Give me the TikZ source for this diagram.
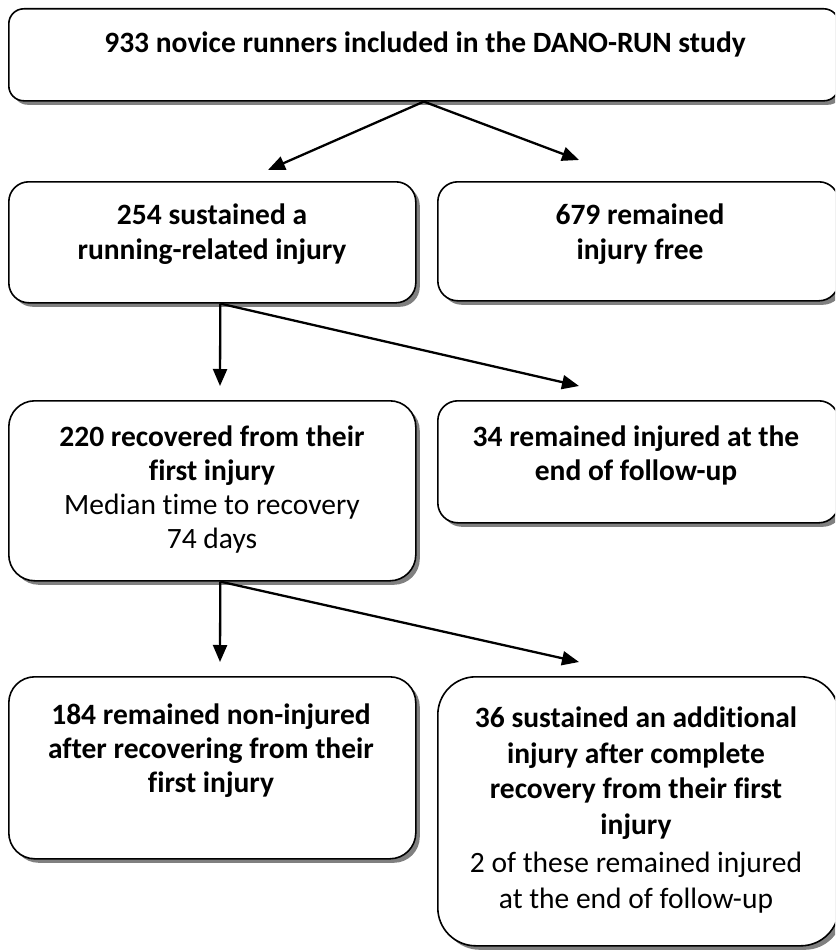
\documentclass[tikz,border=0pt]{standalone}
\usepackage{fontspec}
\setmainfont[Ligatures={NoCommon}]{Carlito}
\usetikzlibrary{shadows,arrows.meta}
\begin{document}
\begin{tikzpicture}[x=1pt,y=-1pt,
  box/.style={draw=black, line width=1.6pt, fill=white, rounded corners=#1,
    inner sep=0pt, anchor=north west,
    drop shadow={shadow xshift=4pt,shadow yshift=-4pt,fill=black!50,opacity=1}},
  box/.default=20pt,
  txt/.style={align=center, inner sep=0pt, anchor=north, font=\fontsize{29.5}{34}\selectfont},
  txtwide/.style={txt, font=\fontsize{29.5}{35.5}\selectfont},
  arr/.style={line width=2.3pt, -{Triangle[length=17pt,width=14pt]}}]
\useasboundingbox (0,0) rectangle (835,950);
\clip (0,0) rectangle (835,950);
\fill[white] (0,0) rectangle (835,950);
% boxes
\node[box=15pt, minimum width=830pt, minimum height=92pt] (A) at (8,8) {};
\node[box=20pt, minimum width=407pt, minimum height=121pt] (B) at (8,181) {};
\node[box=20pt, minimum width=401pt, minimum height=119pt] (C) at (437,181) {};
\node[box=26pt, minimum width=407pt, minimum height=180pt] (D) at (8,400) {};
\node[box=20pt, minimum width=401pt, minimum height=122pt] (E) at (437,400) {};
\node[box=26pt, minimum width=407pt, minimum height=182pt] (F) at (8,676) {};
\node[box=38pt, minimum width=401pt, minimum height=269pt] (G) at (437,676) {};
% texts
\node[txt] (tA) at (425,32) {\textbf{933 novice runners included in the DANO-RUN study}};
\node[txt] (tB) at (212,204) {\textbf{254 sustained a}\\[1pt]\textbf{running-related injury}};
\node[txt] (tC) at (640,204) {\textbf{679 remained}\\[1pt]\textbf{injury free}};
\node[txt] (tD) at (212,426) {\textbf{220 recovered from their}\\\textbf{first injury}\\Median time to recovery\\74 days};
\node[txt] (tE) at (636,426) {\textbf{34 remained injured at the}\\\textbf{end of follow-up}};
\node[txt] (tF) at (211,704) {\textbf{184 remained non-injured}\\\textbf{after recovering from their}\\\textbf{first injury}};
\node[txtwide] (tG) at (636,707) {\textbf{36 sustained an additional}\\\textbf{injury after complete}\\\textbf{recovery from their first}\\\textbf{injury}\\[3pt]2 of these remained injured\\at the end of follow-up};
% arrow tips
\coordinate (p1) at (268,170);
\coordinate (p2) at (579,160);
\coordinate (p3) at (220,386);
\coordinate (p4) at (579,386);
\coordinate (p5) at (220,662);
\coordinate (p6) at (579,662);
% connectors
\draw[arr] (A.south) -- (p1);
\draw[arr] (A.south) -- (p2);
\draw[arr] ([xshift=8pt]B.south) -- (p3);
\draw[arr] ([xshift=8pt]B.south) -- (p4);
\draw[arr] ([xshift=8pt]D.south) -- (p5);
\draw[arr] ([xshift=8pt]D.south) -- (p6);
\end{tikzpicture}
\end{document}
